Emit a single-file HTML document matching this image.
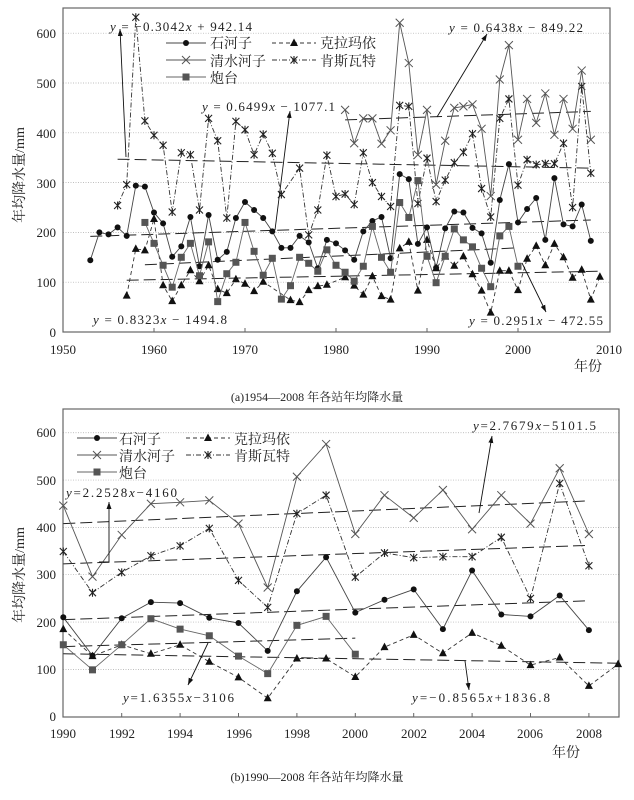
<!DOCTYPE html>
<html><head><meta charset="utf-8">
<style>
html,body{margin:0;padding:0;background:#fff;}
svg{display:block;font-family:"Liberation Serif","Noto Serif CJK SC",serif;}
.t{font-family:"Liberation Serif","Noto Serif CJK SC",serif;font-size:13px;fill:#222;}
.c{font-family:"Liberation Serif","Noto Serif CJK SC",serif;font-size:14px;fill:#222;}
.eq{font-family:"Liberation Serif",serif;font-size:13px;fill:#222;}
</style></head>
<body>
<svg id="s" width="634" height="800" viewBox="0 0 634 800" xmlns="http://www.w3.org/2000/svg">
<defs>
<marker id="ah" markerWidth="8" markerHeight="8" refX="7" refY="4" orient="auto" markerUnits="userSpaceOnUse">
<path d="M0,1.5 L7,4 L0,6.5 Z" fill="#111"/></marker>
</defs>
<g id="grid"></g>
<rect x="63" y="8" width="547" height="324" fill="none" stroke="#666" stroke-width="1.2"/>
<rect x="63" y="409" width="556" height="308" fill="none" stroke="#666" stroke-width="1.2"/>
<g id="series"></g>

<g class="t" text-anchor="end">
<text x="56" y="337">0</text><text x="56" y="287">100</text><text x="56" y="237">200</text>
<text x="56" y="188">300</text><text x="56" y="138">400</text><text x="56" y="88">500</text><text x="56" y="38">600</text>
</g>
<g class="t" text-anchor="middle">
<text x="63" y="354">1950</text><text x="154" y="354">1960</text><text x="245" y="354">1970</text>
<text x="336" y="354">1980</text><text x="427" y="354">1990</text><text x="518" y="354">2000</text><text x="609" y="354">2010</text>
</g>
<text class="c" x="574" y="371">年份</text>
<text class="c" x="24" y="175" transform="rotate(-90 24 175)" text-anchor="middle">年均降水量/mm</text>
<text class="c" x="317" y="401" text-anchor="middle" style="font-size:12px">(a)1954—2008 年各站年均降水量</text>

<g class="t" text-anchor="end">
<text x="56" y="721">0</text><text x="56" y="674">100</text><text x="56" y="627">200</text>
<text x="56" y="579">300</text><text x="56" y="532">400</text><text x="56" y="485">500</text><text x="56" y="437">600</text>
</g>
<g class="t" text-anchor="middle">
<text x="63" y="738">1990</text><text x="122" y="738">1992</text><text x="180" y="738">1994</text>
<text x="239" y="738">1996</text><text x="297" y="738">1998</text><text x="355" y="738">2000</text>
<text x="414" y="738">2002</text><text x="472" y="738">2004</text><text x="530" y="738">2006</text><text x="589" y="738">2008</text>
</g>
<text class="c" x="552" y="757">年份</text>
<text class="c" x="24" y="575" transform="rotate(-90 24 575)" text-anchor="middle">年均降水量/mm</text>
<text class="c" x="317" y="781" text-anchor="middle" style="font-size:12px">(b)1990—2008 年各站年均降水量</text>

<g class="c">
<text x="210" y="48">石河子</text><text x="210" y="66">清水河子</text><text x="210" y="83">炮台</text>
<text x="320" y="48">克拉玛依</text><text x="320" y="66">肯斯瓦特</text>
</g>
<g class="c">
<text x="119" y="444">石河子</text><text x="119" y="461">清水河子</text><text x="119" y="478">炮台</text>
<text x="234" y="444">克拉玛依</text><text x="234" y="461">肯斯瓦特</text>
</g>

<g class="eq">
<text x="110" y="31" textLength="142" lengthAdjust="spacing"><tspan font-style="italic">y</tspan> = −0.3042<tspan font-style="italic">x</tspan> + 942.14</text>
<text x="449" y="32" textLength="134" lengthAdjust="spacing"><tspan font-style="italic">y</tspan> = 0.6438<tspan font-style="italic">x</tspan> − 849.22</text>
<text x="202" y="111" textLength="133" lengthAdjust="spacing"><tspan font-style="italic">y</tspan> = 0.6499<tspan font-style="italic">x</tspan> − 1077.1</text>
<text x="93" y="324" textLength="134" lengthAdjust="spacing"><tspan font-style="italic">y</tspan> = 0.8323<tspan font-style="italic">x</tspan> − 1494.8</text>
<text x="469" y="325" textLength="134" lengthAdjust="spacing"><tspan font-style="italic">y</tspan> = 0.2951<tspan font-style="italic">x</tspan> − 472.55</text>
</g>
<g stroke="#111" stroke-width="0.9" fill="none" marker-end="url(#ah)">
<line x1="126" y1="157" x2="120" y2="29"/>
<line x1="437" y1="117" x2="487" y2="34"/>
<line x1="275" y1="230" x2="290" y2="111"/>
<line x1="522" y1="263" x2="546" y2="312"/>
</g>
<g class="eq">
<text x="473" y="430" textLength="123" lengthAdjust="spacing"><tspan font-style="italic">y</tspan>=2.7679<tspan font-style="italic">x</tspan>−5101.5</text>
<text x="66" y="497" textLength="111" lengthAdjust="spacing"><tspan font-style="italic">y</tspan>=2.2528<tspan font-style="italic">x</tspan>−4160</text>
<text x="123" y="702" textLength="111" lengthAdjust="spacing"><tspan font-style="italic">y</tspan>=1.6355<tspan font-style="italic">x</tspan>−3106</text>
<text x="412" y="702" textLength="138" lengthAdjust="spacing"><tspan font-style="italic">y</tspan>=−0.8565<tspan font-style="italic">x</tspan>+1836.8</text>
</g>
<g stroke="#111" stroke-width="0.9" fill="none" marker-end="url(#ah)">
<line x1="479" y1="513" x2="492" y2="436"/>
<polyline points="99,562 109,562 109,502"/>
<line x1="208" y1="643" x2="188" y2="685"/>
<line x1="465" y1="661" x2="469" y2="690"/>
</g>
</svg>
<script>
var NS="http://www.w3.org/2000/svg";
var G=document.getElementById("series"),GR=document.getElementById("grid");
function el(p,t,a){var e=document.createElementNS(NS,t);for(var k in a)e.setAttribute(k,a[k]);p.appendChild(e);return e;}
var T={X:function(y){return 63+9.1*(y-1950)},Y:function(v){return 332-v*0.498}};
var B={X:function(y){return 63.3+29.2*(y-1990)},Y:function(v){return 716.7-v*0.4733}};
[1,2,3,4,5,6].forEach(function(i){
 el(GR,"line",{x1:63,x2:610,y1:T.Y(i*100),y2:T.Y(i*100),stroke:"#aaa","stroke-width":0.7,"stroke-dasharray":"1,1.5"});
 el(GR,"line",{x1:63,x2:619,y1:B.Y(i*100),y2:B.Y(i*100),stroke:"#aaa","stroke-width":0.7,"stroke-dasharray":"1,1.5"});
});
for(var y=1960;y<2010;y+=10)el(GR,"line",{x1:T.X(y),x2:T.X(y),y1:332,y2:328,stroke:"#666"});
for(var y=1992;y<=2008;y+=2)el(GR,"line",{x1:B.X(y),x2:B.X(y),y1:717,y2:713,stroke:"#666"});
function seq(s,arr){var o=[];arr.forEach(function(v,i){if(v!=null)o.push([s+i,v]);});return o;}
var shz=seq(1953,[144,200,196,210,193,294,292,240,218,151,172,231,132,235,145,161,229,261,245,229,202,169,169,193,180,128,185,178,164,145,202,223,231,148,317,307,177,210,129,208,242,240,209,198,139,265,337,220,247,269,185,309,216,212,256,183]);
var qs=seq(1981,[446,379,429,429,378,405,621,540,356,446,296,384,450,453,457,408,273,507,576,386,468,420,479,396,468,408,525,386]);
var ks=seq(1956,[254,296,632,424,395,375,241,360,356,245,429,384,229,423,406,356,397,359,276,null,329,195,245,355,272,277,256,360,300,272,252,455,453,258,349,262,305,340,361,398,288,231,429,468,295,346,336,338,338,379,250,493,319]);
var kl=seq(1957,[73,167,164,227,94,62,94,124,102,134,86,78,106,97,82,101,null,null,64,60,84,92,95,null,110,93,75,112,72,65,168,181,83,185,128,152,133,152,116,83,39,123,123,84,147,173,134,177,150,109,125,65,111]);
var pt=seq(1959,[220,178,134,90,150,178,113,181,61,117,140,220,162,114,148,66,93,150,138,122,165,134,120,102,132,212,150,120,260,230,304,152,99,152,207,185,171,128,91,193,212,132]);
function sub(d,a,b){return d.filter(function(p){return p[0]>=a&&p[0]<=b;});}
function mk(g,x,y,t){
 if(t=="o")el(g,"circle",{cx:x,cy:y,r:3,fill:"#111"});
 else if(t=="^")el(g,"path",{d:"M"+x+","+(y-4.5)+"L"+(x+4)+","+(y+3)+"L"+(x-4)+","+(y+3)+"Z",fill:"#111"});
 else if(t=="s")el(g,"rect",{x:x-3.5,y:y-3.5,width:7,height:7,fill:"#555"});
 else if(t=="x")el(g,"path",{d:"M"+(x-4)+","+(y-4)+"L"+(x+4)+","+(y+4)+"M"+(x-4)+","+(y+4)+"L"+(x+4)+","+(y-4),stroke:"#555","stroke-width":1,fill:"none"});
 else if(t=="*")el(g,"path",{d:"M"+(x-3.5)+","+(y-3.5)+"L"+(x+3.5)+","+(y+3.5)+"M"+(x-3.5)+","+(y+3.5)+"L"+(x+3.5)+","+(y-3.5)+"M"+x+","+(y-4)+"L"+x+","+(y+4),stroke:"#222","stroke-width":1.1,fill:"none"});
}
function draw(S,d,t,dash,col){
 var pts=d.map(function(p){return S.X(p[0]).toFixed(1)+","+S.Y(p[1]).toFixed(1)}).join(" ");
 var a={points:pts,fill:"none",stroke:col,"stroke-width":0.9};if(dash)a["stroke-dasharray"]=dash;
 el(G,"polyline",a);
 d.forEach(function(p){mk(G,S.X(p[0]),S.Y(p[1]),t);});
}
function trend(S,y1,v1,y2,v2){el(G,"line",{x1:S.X(y1),y1:S.Y(v1),x2:S.X(y2),y2:S.Y(v2),stroke:"#222","stroke-width":1,"stroke-dasharray":"12,5"});}
trend(T,1956,347,2008,329);trend(T,1953,192,2008,225);trend(T,1959,135,2000,169);trend(T,1957,104,2009,122);trend(T,1981,426,2008,443);
draw(T,ks,"*","5,2,1,2","#333");
draw(T,kl,"^","4,3","#333");
draw(T,qs,"x",null,"#555");
draw(T,shz,"o",null,"#444");
draw(T,pt,"s",null,"#666");
trend(B,1990,408,2008,456);trend(B,1990,323,2008,362);trend(B,1990,205,2008,245);trend(B,1990,148,2000,166);trend(B,1990,133,2009,113);
draw(B,sub(ks,1990,2008),"*","5,2,1,2","#333");
draw(B,sub(kl,1990,2009),"^","4,3","#333");
draw(B,sub(qs,1990,2008),"x",null,"#555");
draw(B,sub(shz,1990,2008),"o",null,"#444");
draw(B,sub(pt,1990,2000),"s",null,"#666");
function leg(x1,x2,y,t,dash,col){var a={x1:x1,x2:x2,y1:y,y2:y,stroke:col,"stroke-width":0.9};if(dash)a["stroke-dasharray"]=dash;el(G,"line",a);mk(G,(x1+x2)/2,y,t);}
leg(166,206,43,"o",null,"#444");leg(166,206,60,"x",null,"#555");leg(166,206,77,"s",null,"#666");
leg(272,316,43,"^","4,3","#333");leg(272,316,60,"*","5,2,1,2","#333");
leg(77,117,438,"o",null,"#444");leg(77,117,455,"x",null,"#555");leg(77,117,472,"s",null,"#666");
leg(186,230,438,"^","4,3","#333");leg(186,230,455,"*","5,2,1,2","#333");
</script>
</body></html>
